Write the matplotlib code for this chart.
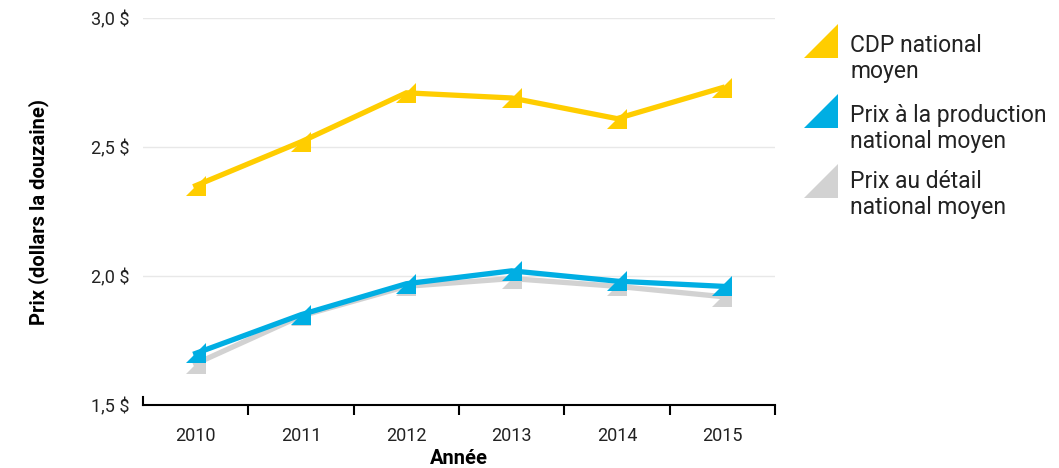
#!/usr/bin/env python3

import matplotlib.pyplot as plt
from matplotlib.lines import Line2D
from matplotlib.path import Path

# Valeurs
annees = ['2010', '2011', '2012', '2013', '2014', '2015']
cdp = [2.35, 2.52, 2.71, 2.69, 2.61, 2.73]
prix_production = [1.70, 1.85, 1.97, 2.02, 1.98, 1.96]
prix_detail = [1.66, 1.845, 1.96, 1.99, 1.96, 1.92]
yticks = [1.5, 2.0, 2.5, 3.0]
ytick_labels = ['1,5 $', '2,0 $', '2,5 $', '3,0 $']

series = [
    ('CDP national\nmoyen', cdp, '#FFCD00'),
    ('Prix à la production\nnational moyen', prix_production, '#00AEE3'),
    ('Prix au détail\nnational moyen', prix_detail, '#D2D2D2'),
]

plt.rcParams['font.family'] = ['Roboto', 'DejaVu Sans']

# triangle rectangle (angle droit en bas a droite)
tri = Path([(-1, -1), (1, -1), (1, 1), (-1, -1)],
           [Path.MOVETO, Path.LINETO, Path.LINETO, Path.CLOSEPOLY])

fig = plt.figure(figsize=(10.59, 4.68), dpi=100)
ax = fig.add_axes([143 / 1059, 1 - 405 / 468, (775 - 143) / 1059, (405 - 18) / 468])

x = list(range(len(annees)))
# gris dessine en dessous du bleu
order = [0, 2, 1]
for i in order:
    label, vals, col = series[i]
    ax.plot(x, vals, color=col, lw=3.8, marker=tri, markersize=14,
            markeredgewidth=0, solid_joinstyle='miter', zorder=3 + (i == 1))

ax.set_xlim(-0.5, len(annees) - 0.5)
ax.set_ylim(1.5, 3.0)
ax.set_yticks(yticks)
ax.set_yticklabels(ytick_labels)
for y in yticks[1:]:
    ax.axhline(y, color='#E8E8E8', lw=1, zorder=1)

ax.set_xticks(x)
ax.set_xticklabels(annees)
ax.set_xticks([v + 0.5 for v in x], minor=True)
ax.tick_params(axis='x', which='major', length=0, pad=16, labelsize=13, labelcolor='#222222')
ax.tick_params(axis='x', which='minor', length=7.5, width=1.5, color='black')
ax.tick_params(axis='y', length=0, pad=10, labelsize=13, labelcolor='#222222')

for s in ['top', 'right']:
    ax.spines[s].set_visible(False)
ax.spines['bottom'].set_linewidth(1.5)
ax.spines['left'].set_linewidth(1.5)
ax.spines['left'].set_bounds(1.5, 1.53)

ax.set_xlabel('Année', fontsize=14.5, fontweight='bold', labelpad=3)
ax.set_ylabel('Prix (dollars la douzaine)', fontsize=14.5, fontweight='bold', labelpad=30)

# legende a droite (ligne de base de la derniere ligne de texte)
leg_y = [41, 111, 181]
base_y = [78, 148, 214]
for (label, vals, col), by, my in zip(series, base_y, leg_y):
    fig.add_artist(Line2D([821 / 1059], [1 - my / 468], marker=tri, markersize=24,
                          color=col, markeredgewidth=0, transform=fig.transFigure))
    fig.text(850 / 1059, 1 - by / 468, label, fontsize=16.5, va='baseline', ha='left',
             color='#222222', linespacing=1.15)

plt.savefig('out.png', dpi=100)
